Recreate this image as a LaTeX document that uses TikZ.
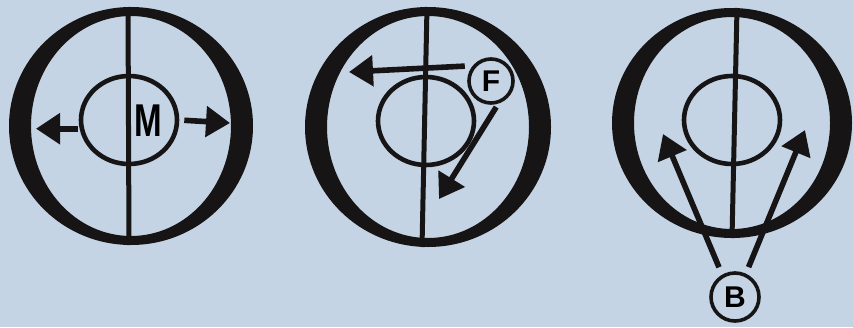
\documentclass[tikz,border=0pt]{standalone}
\usepackage{fontspec}
\setsansfont{Liberation Sans}
\usetikzlibrary{arrows.meta,shapes.geometric}

\definecolor{bgblue}{RGB}{196,212,228}
\definecolor{ink}{RGB}{22,20,20}

\begin{document}
\begin{tikzpicture}[
  x=1pt, y=-1pt,
  ring/.style={fill=ink, even odd rule},
  axisline/.style={draw=ink, line width=5pt},
  nucleus/.style={ellipse, draw=ink, line width=4.6pt, minimum width=96pt,
                  minimum height=88pt, inner sep=0pt},
  tag/.style={circle, draw=ink, line width=3.6pt, minimum size=44pt,
              inner sep=0pt, font=\sffamily\bfseries\fontsize{30}{30}\selectfont},
  letter/.style={inner sep=0pt, font=\sffamily\bfseries\fontsize{46}{46}\selectfont},
  arr/.style={-{Triangle[length=24pt,width=30pt]}, draw=ink, line width=5.6pt},
]
\fill[bgblue] (0,0) rectangle (853,327);
\useasboundingbox (0,0) rectangle (853,327);

% ---- left cell (M) ----
\fill[ring] (131,126) ellipse [x radius=122, y radius=119]
            (131,126) ellipse [x radius=100, y radius=110];
\coordinate (top1) at (128,7);
\coordinate (bot1) at (129,245);
\draw[axisline] (top1) -- (bot1);
\node[nucleus] (nuc1) at (129,120) {};
\node[letter] (mlab) at (148,121) {\scalebox{0.72}[1]{M}};
\coordinate (mleft) at (36,128);
\coordinate (mright) at (230,123);
\draw[arr, shorten <=2pt] (nuc1.190) -- (nuc1.190 -| mleft);
\draw[arr, shorten <=5pt] (nuc1.east) -- (mright);

% ---- middle cell (F) ----
\fill[ring] (428,127) ellipse [x radius=123, y radius=120]
            (428,127) ellipse [x radius=101, y radius=111];
\coordinate (top2) at (427,7);
\coordinate (bot2) at (422,247);
\draw[axisline] (top2) -- (bot2);
\node[nucleus] (nuc2) at (426,121) {};
\node[tag] (ftag) at (491,81) {F};
\coordinate (fleft) at (349,72);
\coordinate (fdown) at (439,199);
\draw[arr, shorten <=8pt] (ftag.140) -- (fleft);
\draw[arr, shorten <=4pt] (ftag.-72) -- (fdown);

% ---- right cell (B) ----
\fill[ring] (732,123) ellipse [x radius=120, y radius=115]
            (732,123) ellipse [x radius=98, y radius=106];
\coordinate (top3) at (737,8);
\coordinate (bot3) at (732,238);
\draw[axisline] (top3) -- (bot3);
\node[nucleus] (nuc3) at (732,120) {};
\node[tag, minimum size=48pt] (btag) at (735,297) {B};
\coordinate (bleft) at (663,134);
\coordinate (bright) at (805,130);
\draw[arr, shorten <=8pt] (btag.120) -- (bleft);
\draw[arr, shorten <=7pt] (btag.65) -- (bright);
\end{tikzpicture}
\end{document}
